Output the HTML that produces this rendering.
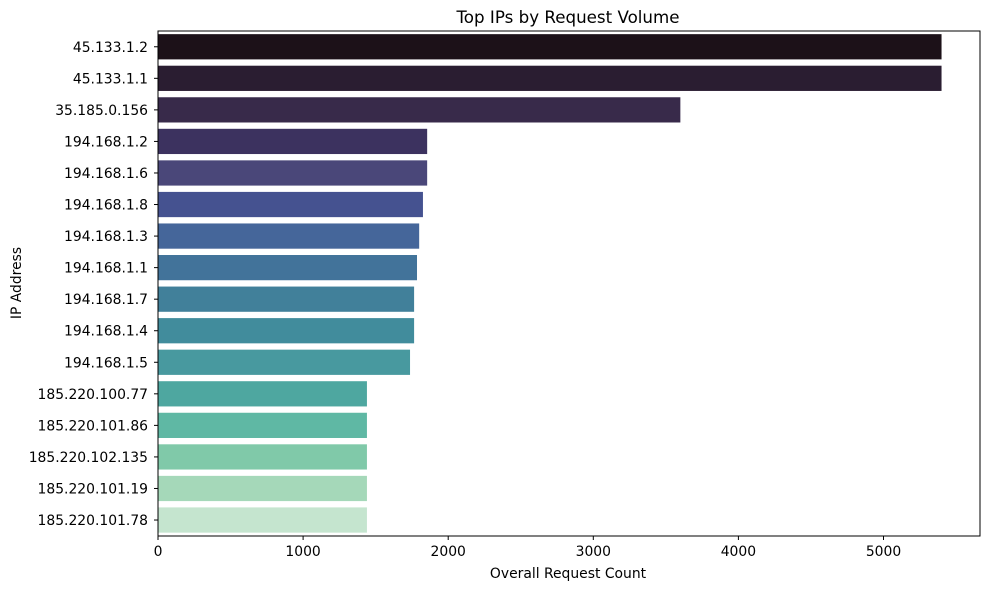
<!DOCTYPE html>
<html><head><meta charset="utf-8">
<style>
body{margin:0;background:#fff;font-family:"Liberation Sans","DejaVu Sans",sans-serif;}
svg text{font-family:"DejaVu Sans","Liberation Sans",sans-serif;fill:#000;}
</style></head>
<body>
<svg id="chart" width="989" height="590">
<text x="568" y="23" font-size="16.7" text-anchor="middle">Top IPs by Request Volume</text>
<g id="bars"></g>
<g id="yticks"></g>
<g id="xticks"></g>
<rect x="158" y="31" width="822" height="505" fill="none" stroke="#000" stroke-width="1"/>
<text x="568" y="578" font-size="13.9" text-anchor="middle">Overall Request Count</text>
<text transform="translate(21,283) rotate(-90)" font-size="13.9" text-anchor="middle">IP Address</text>
</svg>
<script>
const categories=["45.133.1.2","45.133.1.1","35.185.0.156","194.168.1.2","194.168.1.6","194.168.1.8","194.168.1.3","194.168.1.1","194.168.1.7","194.168.1.4","194.168.1.5","185.220.100.77","185.220.101.86","185.220.102.135","185.220.101.19","185.220.101.78"];
const values=[5400,5400,3600,1855,1855,1826,1800,1785,1765,1765,1737,1440,1440,1440,1440,1440];
const colors=["#1c1118","#2a1d31","#382a4a","#3c325f","#4a4779","#455290","#45669a","#42739a","#41809a","#418c9c","#48999f","#4ea7a0","#5fb8a4","#80c9a9","#a5d8b9","#c5e5cf"];
const xTicks=[0,1000,2000,3000,4000,5000];
const NS="http://www.w3.org/2000/svg";
const x0=158,pxPer=0.1451,plotTop=31,band=31.55;
const xScale=v=>x0+v*pxPer;
const yScale=i=>plotTop+band*i;
const bars=document.getElementById('bars'),yt=document.getElementById('yticks'),xt=document.getElementById('xticks');
categories.forEach((c,i)=>{
 const r=document.createElementNS(NS,'rect');
 r.setAttribute('x',xScale(0));r.setAttribute('y',yScale(i)+band*0.1);
 r.setAttribute('width',xScale(values[i])-xScale(0));r.setAttribute('height',band*0.8);
 r.setAttribute('fill',colors[i]);
 
 
 bars.appendChild(r);
 const cy=yScale(i)+band/2;
 const l=document.createElementNS(NS,'line');
 l.setAttribute('x1',154);l.setAttribute('x2',158);l.setAttribute('y1',cy);l.setAttribute('y2',cy);l.setAttribute('stroke','#000');
 
 
 yt.appendChild(l);
 const t=document.createElementNS(NS,'text');
 t.setAttribute('x',148);t.setAttribute('y',cy+5);t.setAttribute('font-size','13.9');t.setAttribute('text-anchor','end');
 t.textContent=c;
 
 
 yt.appendChild(t);
});
xTicks.forEach(v=>{
 const x=xScale(v);
 const l=document.createElementNS(NS,'line');
 l.setAttribute('x1',x);l.setAttribute('x2',x);l.setAttribute('y1',536);l.setAttribute('y2',540);l.setAttribute('stroke','#000');
 
 
 xt.appendChild(l);
 const t=document.createElementNS(NS,'text');
 t.setAttribute('x',x);t.setAttribute('y',556);t.setAttribute('font-size','13.9');t.setAttribute('text-anchor','middle');
 t.textContent=v;
 
 
 xt.appendChild(t);
});
</script>
</body></html>
